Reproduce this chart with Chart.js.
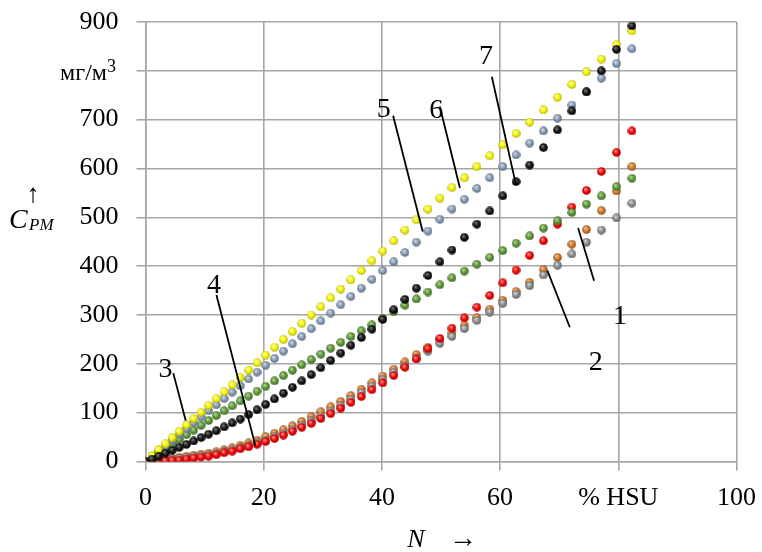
<!DOCTYPE html>
<html>
<head>
<meta charset="utf-8">
<script src="https://cdn.jsdelivr.net/npm/chart.js@4.4.0/dist/chart.umd.min.js"></script>
<style>
  html, body { margin: 0; padding: 0; background: #fff; }
</style>
</head>
<body>
<canvas id="chart" width="762" height="552"></canvas>
<script>
// N, % HSU (common x values of all curves)
var nValues = [0, 1.1, 2.22, 3.36, 4.52, 5.71, 6.92, 8.15, 9.4, 10.68, 11.98, 13.31, 14.66, 16.04, 17.44, 18.87,
  20.33, 21.82, 23.33, 24.87, 26.44, 28.04, 29.67, 31.33, 33.03, 34.76, 36.52, 38.31, 40.14, 42, 43.9, 45.83,
  47.8, 49.81, 51.86, 53.95, 56.08, 58.25, 60.46, 62.71, 65, 67.34, 69.72, 72.14, 74.61, 77.13, 79.7, 82.31];

// C_PM, мг/м3
var curve1 = [0, 2, 3, 5, 7, 9, 11, 13, 15, 17, 20, 24, 28, 33, 38, 44, 51, 58, 65, 73, 82, 92, 102, 112, 123,
  135, 148, 161, 175, 189, 204, 219, 234, 249, 263, 279, 295, 312, 330, 348, 367, 393, 418, 445, 475, 514, 554, 604];
var curve2 = [0, 1, 2, 3, 5, 6, 8, 10, 12, 14, 17, 20, 24, 28, 33, 38, 44, 51, 58, 66, 74, 83, 93, 103, 114,
  127, 141, 154, 168, 182, 196, 211, 226, 242, 256, 272, 289, 306, 324, 342, 360, 382, 402, 425, 449, 474, 499, 529];
var curve3 = [0, 9, 18, 27, 36, 45, 55, 64, 74, 84, 94, 104, 114, 124, 134, 144, 154, 165, 176, 187, 198, 209, 220,
  232, 244, 256, 268, 280, 293, 307, 320, 333, 347, 362, 376, 390, 404, 418, 432, 447, 462, 478, 493, 510, 527, 544, 563, 580];
var curve4 = [0, 0, 1, 1, 2, 3, 5, 7, 9, 11, 14, 18, 21, 26, 30, 35, 41, 47, 54, 62, 70, 78, 88, 98, 109, 121,
  133, 147, 161, 176, 193, 210, 231, 252, 273, 294, 316, 340, 366, 392, 422, 452, 486, 521, 555, 594, 633, 677];
var curve5 = [0, 11, 22, 33, 44, 56, 67, 79, 91, 104, 116, 129, 142, 155, 169, 183, 197, 211, 226, 241, 256, 272,
  288, 304, 321, 338, 355, 373, 391, 409, 428, 449, 472, 496, 517, 537, 559, 581, 604, 628, 652, 677, 703, 730, 757, 785, 815, 845];
var curve6 = [0, 12, 24, 36, 49, 62, 75, 88, 101, 115, 129, 143, 157, 172, 187, 202, 218, 234, 250, 266, 283, 300,
  317, 335, 353, 372, 391, 411, 431, 452, 474, 495, 517, 539, 561, 581, 604, 626, 649, 672, 695, 720, 746, 772, 798, 824, 854, 882];
var curve7 = [0, 5, 11, 17, 23, 29, 35, 42, 49, 56, 63, 71, 79, 87, 96, 106, 117, 128, 140, 152, 165, 178, 192, 207,
  222, 238, 254, 271, 291, 311, 332, 355, 381, 409, 433, 459, 486, 513, 544, 573, 607, 643, 679, 718, 757, 800, 844, 892];

// tick labels (800 carries the unit, drawn separately)
var xTicks = [0, 20, 40, 60, 80, 100];
var xTickText = ['0', '20', '40', '60', '% HSU', '100'];
var yTicks = [0, 100, 200, 300, 400, 500, 600, 700, 800, 900];
var yTickText = ['0', '100', '200', '300', '400', '500', '600', '700', '', '900'];

// curve numbers with leader lines (data units)
var notes = [
  { text: '1', n: 80.3, c: 296, from: [73.2, 478], to: [75.9, 370] },
  { text: '2', n: 76.2, c: 203, from: [68.0, 391], to: [71.8, 275] },
  { text: '3', n: 3.4, c: 189, from: [4.7, 181], to: [6.8, 84] },
  { text: '4', n: 11.6, c: 360, from: [12.0, 341], to: [18.6, 32] },
  { text: '5', n: 40.3, c: 720, from: [41.9, 708], to: [46.9, 471] },
  { text: '6', n: 49.2, c: 718, from: [49.8, 727], to: [53.2, 560] },
  { text: '7', n: 57.6, c: 829, from: [58.6, 788], to: [62.7, 566] }
];

// small shaded ball used as point marker
function ball(base, light, dark) {
  var c = document.createElement('canvas');
  c.width = 9; c.height = 9;
  var g = c.getContext('2d');
  var grad = g.createRadialGradient(3.3, 3, 0.3, 4.5, 4.5, 4.6);
  grad.addColorStop(0, light);
  grad.addColorStop(0.55, base);
  grad.addColorStop(1, dark);
  g.fillStyle = grad;
  g.beginPath();
  g.arc(4.5, 4.5, 4.3, 0, Math.PI * 2);
  g.fill();
  return c;
}

function pts(arr) {
  return nValues.map(function (n, i) { return { x: n, y: arr[i] }; });
}

function ds(arr, img) {
  return { data: pts(arr), pointStyle: img, pointRadius: 4.5, showLine: false };
}

// first dataset is drawn on top
var datasets = [
  ds(curve7, ball('#141414', '#777777', '#000000')),
  ds(curve6, ball('#f4f400', '#ffffb8', '#a8a800')),
  ds(curve5, ball('#8598b1', '#d2dbe8', '#56667c')),
  ds(curve3, ball('#5e9438', '#b0d894', '#3a621f')),
  ds(curve4, ball('#f20000', '#ff9c9c', '#a80000')),
  ds(curve2, ball('#8a8a8a', '#d6d6d6', '#5a5a5a')),
  ds(curve1, ball('#cc7630', '#f6be8e', '#8a4a14'))
];

var SERIF = '"Liberation Serif", "Times New Roman", serif';

var notesPlugin = {
  id: 'notes',
  afterDraw: function (chart) {
    var ctx = chart.ctx, xs = chart.scales.x, ys = chart.scales.y;
    ctx.save();
    ctx.strokeStyle = '#000';
    ctx.lineWidth = 1.8;
    ctx.fillStyle = '#000';
    ctx.textAlign = 'center';
    ctx.textBaseline = 'middle';
    ctx.font = '28px ' + SERIF;
    notes.forEach(function (a) {
      ctx.beginPath();
      ctx.moveTo(xs.getPixelForValue(a.from[0]), ys.getPixelForValue(a.from[1]));
      ctx.lineTo(xs.getPixelForValue(a.to[0]), ys.getPixelForValue(a.to[1]));
      ctx.stroke();
      ctx.fillText(a.text, xs.getPixelForValue(a.n), ys.getPixelForValue(a.c));
    });
    // unit at the 800 tick
    var y800 = ys.getPixelForValue(800);
    ctx.textAlign = 'right';
    ctx.textBaseline = 'alphabetic';
    ctx.font = '18px ' + SERIF;
    var w3 = ctx.measureText('3').width;
    ctx.fillText('3', 116, y800 + 1);
    ctx.font = '24px ' + SERIF;
    ctx.fillText('мг/м', 116 - w3, y800 + 9);
    // axis titles
    ctx.textAlign = 'center';
    ctx.textBaseline = 'middle';
    ctx.font = '26px ' + SERIF;
    ctx.fillText('↑', 33, 195);
    ctx.textAlign = 'left';
    ctx.textBaseline = 'alphabetic';
    ctx.font = 'italic 28px ' + SERIF;
    ctx.fillText('C', 9, 228);
    ctx.font = 'italic 17px ' + SERIF;
    ctx.fillText('PM', 29, 230);
    ctx.textAlign = 'center';
    ctx.textBaseline = 'middle';
    ctx.font = 'italic 26px ' + SERIF;
    ctx.fillText('N', 416, 540);
    ctx.font = '28px ' + SERIF;
    ctx.fillText('→', 463, 540);
    ctx.restore();
  }
};

var gridColor = '#a6a6a6';

var ctx = document.getElementById('chart').getContext('2d');
var chart = new Chart(ctx, {
  type: 'scatter',
  data: { datasets: datasets },
  options: {
    responsive: false,
    animation: false,
    devicePixelRatio: 1,
    layout: { padding: { top: 22, right: 25.5, left: 0, bottom: 0 } },
    plugins: { legend: { display: false }, tooltip: { enabled: false } },
    scales: {
      x: {
        type: 'linear', min: 0, max: 100,
        afterBuildTicks: function (s) { s.ticks = xTicks.map(function (v) { return { value: v }; }); },
        afterFit: function (s) { s.height = 90.5; s.paddingLeft = 0; s.paddingRight = 0; },
        grid: { color: gridColor, lineWidth: 1.6, tickLength: 9 },
        border: { color: gridColor, width: 1.6 },
        ticks: {
          padding: 12,
          color: '#000',
          maxRotation: 0,
          autoSkip: false,
          font: { family: SERIF, size: 26 },
          callback: function (v) { return xTickText[xTicks.indexOf(v)]; }
        }
      },
      y: {
        type: 'linear', min: 0, max: 900,
        afterBuildTicks: function (s) { s.ticks = yTicks.map(function (v) { return { value: v }; }); },
        afterFit: function (s) { s.width = 145.5; s.paddingTop = 0; s.paddingBottom = 0; },
        grid: { color: gridColor, lineWidth: 1.6, tickLength: 9 },
        border: { color: gridColor, width: 1.6 },
        ticks: {
          padding: 18,
          color: '#000',
          autoSkip: false,
          font: { family: SERIF, size: 26 },
          callback: function (v) { return yTickText[yTicks.indexOf(v)]; }
        }
      }
    }
  },
  plugins: [notesPlugin]
});
</script>
</body>
</html>
